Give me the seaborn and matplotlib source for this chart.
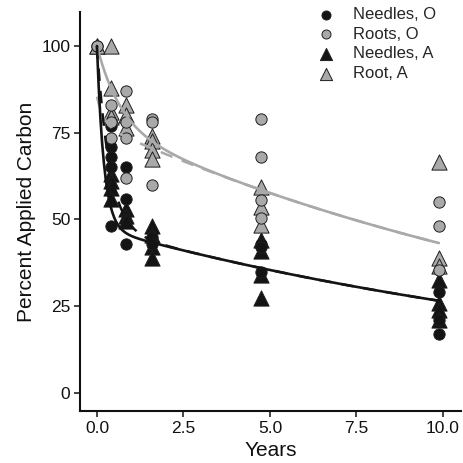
import numpy as np
import pandas as pd
import matplotlib
matplotlib.use("Agg")
import matplotlib.pyplot as plt
import seaborn as sns

# observed values (percent of applied carbon remaining)
needles_o_years = [0, 0.42, 0.42, 0.42, 0.42, 0.42, 0.83, 0.83, 0.83, 1.58, 1.58, 4.75, 4.75, 4.75, 9.88, 9.88, 9.88]
needles_o_pct = [100, 77, 71, 68, 65, 48, 65, 56, 43, 45, 43, 43, 42, 35, 29, 21, 17]

roots_o_years = [0, 0.42, 0.42, 0.42, 0.83, 0.83, 0.83, 0.83, 1.58, 1.58, 1.58, 4.75, 4.75, 4.75, 4.75, 9.88, 9.88, 9.88]
roots_o_pct = [100, 83, 78, 73.5, 87, 78, 73.5, 62, 79, 78, 60, 79, 68, 55.5, 50.5, 55, 48, 35.5]

needles_a_years = [0, 0.42, 0.42, 0.42, 0.42, 0.83, 0.83, 0.83, 1.58, 1.58, 1.58, 1.58, 4.75, 4.75, 4.75, 4.75, 9.88, 9.88, 9.88, 9.88]
needles_a_pct = [100, 63, 61, 59, 56, 53, 51, 49.5, 48, 45.5, 42, 39, 44, 41, 34, 27.5, 32.5, 26, 24, 21]

root_a_years = [0, 0.42, 0.42, 0.42, 0.42, 0.83, 0.83, 0.83, 1.58, 1.58, 1.58, 1.58, 4.75, 4.75, 4.75, 9.88, 9.88, 9.88]
root_a_pct = [100, 100, 88, 81, 79.5, 83, 80, 76.5, 74, 72.5, 70, 67.5, 59.5, 53.5, 48.5, 66.5, 39, 36.5]

# two-pool decay fits: fast pool, fast rate, slow pool, slow rate
needles_fit = (52.4, 5.0, 47.6, 0.059)
needles_fit_alt = (52.4, 2.8, 47.6, 0.059)
roots_fit = (22.6, 1.5, 77.4, 0.059)
roots_fit_alt = (8.0, 5.0, 77.4, 0.059)

BLACK = "#141414"
GRAY = "#a9a9a9"

sns.set_theme(style="ticks")
plt.rcParams["font.family"] = ["Liberation Sans", "DejaVu Sans"]

fig = plt.figure(figsize=(4.63, 4.63), dpi=100)
ax = fig.add_axes([80 / 463, 1 - 411 / 463, 381 / 463, 399 / 463])

groups = [
    ("Needles, A", needles_a_years, needles_a_pct, "^", BLACK, 120),
    ("Root, A", root_a_years, root_a_pct, "^", GRAY, 120),
    ("Needles, O", needles_o_years, needles_o_pct, "o", BLACK, 66),
    ("Roots, O", roots_o_years, roots_o_pct, "o", GRAY, 66),
]
handles = {}
for name, yrs, pct, mk, col, size in groups:
    df = pd.DataFrame({"Years": yrs, "Percent": pct})
    sns.scatterplot(data=df, x="Years", y="Percent", marker=mk, color=col, s=size,
                    edgecolor="#1e1e1e", linewidth=0.7, ax=ax, zorder=3)
    handles[name] = ax.collections[-1]

t = np.linspace(0, 9.88, 400)
def decay(p):
    a, k1, b, k2 = p
    return a * np.exp(-k1 * t) + b * np.exp(-k2 * t)

sns.lineplot(x=t, y=decay(roots_fit_alt), color=GRAY, lw=1.8, ls=(0, (5, 4)), ax=ax, zorder=4)
sns.lineplot(x=t, y=decay(needles_fit_alt), color=BLACK, lw=1.8, ls=(0, (5, 4)), ax=ax, zorder=4)
sns.lineplot(x=t, y=decay(roots_fit), color=GRAY, lw=1.9, ax=ax, zorder=4)
sns.lineplot(x=t, y=decay(needles_fit), color=BLACK, lw=1.9, ax=ax, zorder=4)

ax.set_xlim(-0.49, 10.52)
ax.set_ylim(-5.2, 109.8)
ax.set_xticks([0, 2.5, 5, 7.5, 10])
ax.set_xticklabels(["0.0", "2.5", "5.0", "7.5", "10.0"])
ax.set_yticks([0, 25, 50, 75, 100])
ax.set_xlabel("Years", fontsize=15, color="#111", labelpad=4)
ax.set_ylabel("Percent Applied Carbon", fontsize=15, color="#111", labelpad=4)
ax.tick_params(labelsize=12.5, length=4, width=1.1, colors="#111", pad=3)
for side in ["left", "bottom"]:
    ax.spines[side].set_linewidth(1.5)
    ax.spines[side].set_color("#111")
sns.despine(ax=ax)

order = ["Needles, O", "Roots, O", "Needles, A", "Root, A"]
ax.legend([handles[n] for n in order], order, frameon=False, fontsize=12,
          loc="upper left", bbox_to_anchor=(318 / 463, 1 - 7 / 463),
          bbox_transform=fig.transFigure, borderpad=0, handlelength=1.0,
          handletextpad=1.1, labelspacing=0.28, borderaxespad=0, markerscale=0.8)

fig.savefig("out.png", dpi=100)
